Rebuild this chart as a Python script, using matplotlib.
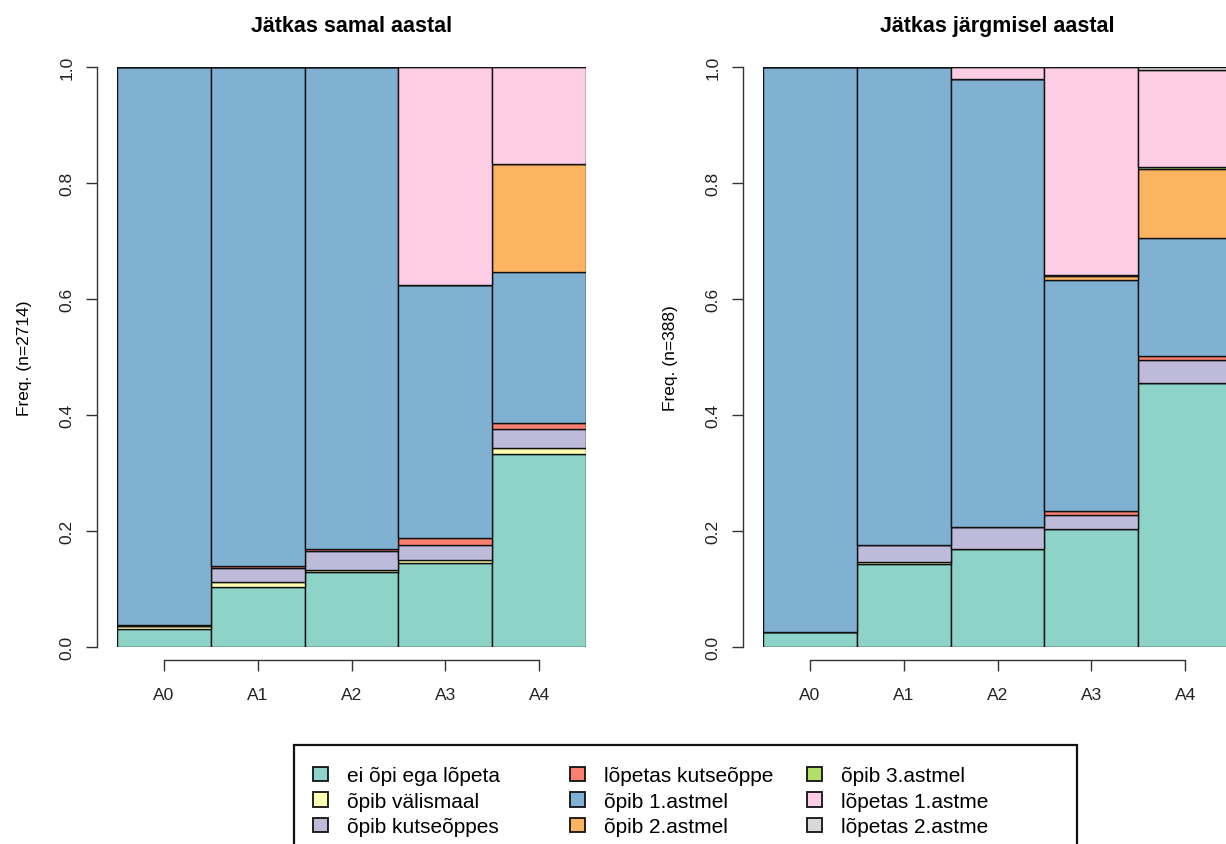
import matplotlib.pyplot as plt
from matplotlib.patches import Patch, Rectangle
import numpy as np

plt.rcParams['font.family'] = ['Liberation Sans', 'DejaVu Sans']

groups = ['A0', 'A1', 'A2', 'A3', 'A4']
categories = ['ei õpi ega lõpeta', 'õpib välismaal', 'õpib kutseõppes',
              'lõpetas kutseõppe', 'õpib 1.astmel', 'õpib 2.astmel',
              'õpib 3.astmel', 'lõpetas 1.astme', 'lõpetas 2.astme']
colors = ['#8DD3C7', '#FFFFB3', '#BEBADA', '#FB8072', '#80B1D3',
          '#FDB462', '#B3DE69', '#FCCDE5', '#D9D9D9']

# shares per group, one row per category (bottom to top)
same_year = np.array([
    [0.031, 0.103, 0.129, 0.145, 0.333],
    [0.005, 0.009, 0.004, 0.005, 0.010],
    [0.001, 0.025, 0.033, 0.026, 0.033],
    [0.001, 0.003, 0.003, 0.012, 0.010],
    [0.962, 0.860, 0.831, 0.436, 0.260],
    [0.000, 0.000, 0.000, 0.000, 0.186],
    [0.000, 0.000, 0.000, 0.000, 0.000],
    [0.000, 0.000, 0.000, 0.376, 0.168],
    [0.000, 0.000, 0.000, 0.000, 0.000],
])
next_year = np.array([
    [0.026, 0.143, 0.169, 0.204, 0.455],
    [0.000, 0.003, 0.000, 0.000, 0.000],
    [0.000, 0.030, 0.038, 0.024, 0.039],
    [0.000, 0.000, 0.000, 0.007, 0.007],
    [0.974, 0.824, 0.772, 0.397, 0.204],
    [0.000, 0.000, 0.000, 0.007, 0.119],
    [0.000, 0.000, 0.000, 0.002, 0.003],
    [0.000, 0.000, 0.021, 0.359, 0.168],
    [0.000, 0.000, 0.000, 0.000, 0.005],
])
panels = [('Jätkas samal aastal', 'Freq. (n=2714)', same_year),
          ('Jätkas järgmisel aastal', 'Freq. (n=388)', next_year)]

W, H = 1226, 845
fig = plt.figure(figsize=(W / 100, H / 100), dpi=100)

def px_axes(x0, y0, x1, y1):
    return fig.add_axes([x0 / W, 1 - y1 / H, (x1 - x0) / W, (y1 - y0) / H])

axes = [px_axes(117, 68, 586, 648), px_axes(763, 68, 1232, 648)]

for ax, (title, ylab, shares) in zip(axes, panels):
    x = np.arange(len(groups))
    bottom = np.zeros(len(groups))
    for row, col in zip(shares, colors):
        ax.bar(x, row, width=1.0, bottom=bottom, align='edge', color=col,
               edgecolor='#111111', linewidth=1.0)
        bottom += row
    ax.set_xlim(0, len(groups))
    ax.set_ylim(0, 1)
    for s in ['top', 'right']:
        ax.spines[s].set_visible(False)
    ax.spines['left'].set_position(('outward', 14.5))
    ax.spines['left'].set_bounds(0, 1)
    ax.spines['bottom'].set_position(('outward', 9))
    ax.spines['bottom'].set_bounds(0.5, len(groups) - 0.5)
    for s in ['left', 'bottom']:
        ax.spines[s].set_color('#333333')
        ax.spines[s].set_linewidth(1.0)
    ax.set_yticks(np.arange(0, 1.01, 0.2))
    ax.set_yticklabels([f'{v:.1f}' for v in np.arange(0, 1.01, 0.2)],
                       rotation=90, va='center', fontsize=12.5, color='#222222')
    ax.set_xticks(x + 0.5)
    ax.set_xticklabels(groups, fontsize=12.5, color='#222222')
    ax.tick_params(axis='both', length=8, width=1.0, color='#333333')
    ax.tick_params(axis='x', pad=11.5)
    ax.tick_params(axis='y', pad=8)
    ax.set_title(title, fontsize=15.5, fontweight='bold', pad=26)
    ax.set_ylabel(ylab, fontsize=12.5, labelpad=20)

# legend box, runs off the bottom edge
fig.patches.append(Rectangle((294 / W, 1 - 870 / H), (1077 - 294) / W, (870 - 746) / H,
                             transform=fig.transFigure, facecolor='white',
                             edgecolor='#111111', linewidth=1.6))
col_x = [313, 570, 807]
for c in range(3):
    handles = [Patch(facecolor=colors[i], edgecolor='#111111', linewidth=1.3)
               for i in range(c * 3, c * 3 + 3)]
    fig.legend(handles, categories[c * 3:c * 3 + 3],
               loc='upper left', bbox_to_anchor=(col_x[c] / W, 1 - 767 / H),
               frameon=False, fontsize=15, handlelength=0.72, handleheight=0.68,
               handletextpad=0.9, labelspacing=0.32, borderpad=0, borderaxespad=0)

fig.savefig('out.png', dpi=100)
